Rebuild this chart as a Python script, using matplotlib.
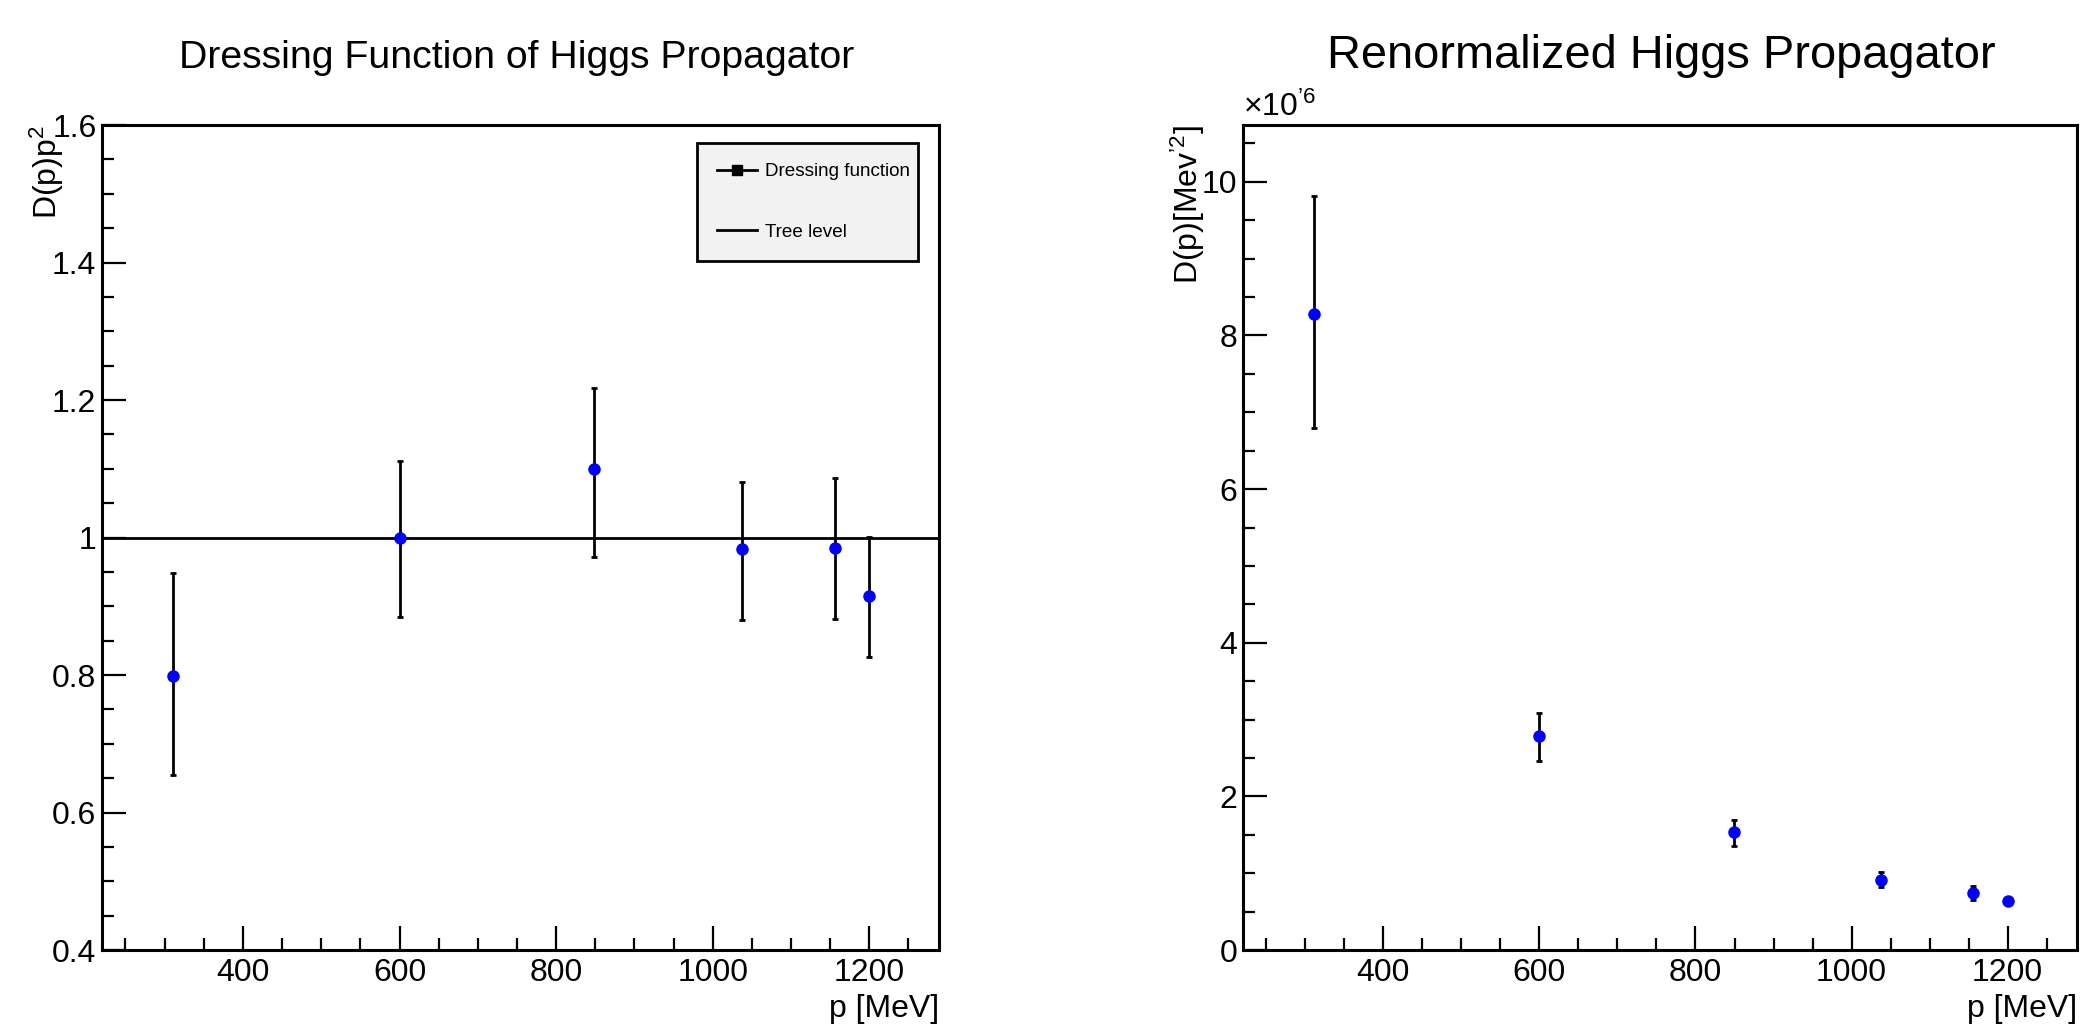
import matplotlib
matplotlib.use("Agg")
import matplotlib.pyplot as plt
from matplotlib.ticker import MultipleLocator, FuncFormatter
from matplotlib.lines import Line2D

plt.rcParams['font.family'] = ['Liberation Sans', 'DejaVu Sans']
plt.rcParams['mathtext.fontset'] = 'custom'
plt.rcParams['mathtext.rm'] = 'Liberation Sans'
plt.rcParams['mathtext.it'] = 'Liberation Sans'

# ---- data ----
momentum = [311, 600, 849, 1038, 1156, 1200]          # p [MeV]
dressing = [0.799, 1.000, 1.099, 0.983, 0.985, 0.915]
dressing_lo = [0.655, 0.885, 0.971, 0.880, 0.881, 0.826]
dressing_hi = [0.948, 1.111, 1.218, 1.081, 1.086, 1.001]

propagator = [8.28, 2.78, 1.53, 0.915, 0.745, 0.640]   # x 10^-6
propagator_lo = [6.80, 2.46, 1.36, 0.815, 0.655, 0.600]
propagator_hi = [9.82, 3.08, 1.69, 1.010, 0.830, 0.680]

left_title = "Dressing Function of Higgs Propagator"
right_title = "Renormalized Higgs Propagator"
legend_labels = ["Dressing function", "Tree level"]

W, H = 2081, 1024
fig = plt.figure(figsize=(W / 100, H / 100), dpi=100)


def box(x0, x1, y0, y1):
    return [x0 / W, 1 - y1 / H, (x1 - x0) / W, (y1 - y0) / H]


axL = fig.add_axes(box(102, 939, 125, 950))
axR = fig.add_axes(box(1243, 2077, 125, 950))

fmt = FuncFormatter(lambda v, pos: "%g" % round(v, 6))

for ax in (axL, axR):
    for s in ax.spines.values():
        s.set_linewidth(2.2)
    ax.tick_params(which='both', direction='in', top=False, right=False,
                   width=1.6, labelsize=23)
    ax.tick_params(which='major', length=17)
    ax.tick_params(which='minor', length=8.5)
    ax.tick_params(axis='x', pad=6)
    ax.tick_params(axis='y', pad=4)
    ax.xaxis.set_major_locator(MultipleLocator(200))
    ax.xaxis.set_minor_locator(MultipleLocator(50))
    ax.xaxis.set_major_formatter(fmt)
    ax.yaxis.set_major_formatter(fmt)
    ax.set_xlim(220, 1289)
    ax.text(1.0, -0.071, "p [MeV]", transform=ax.transAxes, ha='right',
            va='center', fontsize=23)

# ---- left panel ----
yerrL = [[d - l for d, l in zip(dressing, dressing_lo)],
         [h - d for d, h in zip(dressing, dressing_hi)]]
axL.errorbar(momentum, dressing, yerr=yerrL, fmt='o', color='#0000ff',
             ms=8, mec='#0000ff', ecolor='black', elinewidth=2,
             capsize=2, capthick=2, zorder=3)
axL.axhline(1.0, color='black', lw=2, zorder=2)
axL.set_ylim(0.4, 1.6)
axL.yaxis.set_major_locator(MultipleLocator(0.2))
axL.yaxis.set_minor_locator(MultipleLocator(0.05))
axL.text(-0.066, 1.0, "D(p)p$^{2}$", transform=axL.transAxes, rotation=90,
         ha='center', va='top', fontsize=23)

handles = [Line2D([], [], color='black', lw=2, marker='s', ms=7),
           Line2D([], [], color='black', lw=2)]
leg = axL.legend(handles, legend_labels, loc='upper left',
                 bbox_to_anchor=(0.711, 0.828, 0.264, 0.15), mode='expand',
                 borderaxespad=0, fontsize=13.6, handlelength=2.1,
                 handletextpad=0.42, labelspacing=2.3, borderpad=1.05,
                 fancybox=False, framealpha=1)
leg.get_frame().set_facecolor('#f2f2f2')
leg.get_frame().set_edgecolor('black')
leg.get_frame().set_linewidth(2)

fig.text(517 / W, 1 - 58 / H, left_title, ha='center', va='center',
         fontsize=28.3)

# ---- right panel ----
yerrR = [[d - l for d, l in zip(propagator, propagator_lo)],
         [h - d for d, h in zip(propagator, propagator_hi)]]
axR.errorbar(momentum, propagator, yerr=yerrR, fmt='o', color='#0000ff',
             ms=8, mec='#0000ff', ecolor='black', elinewidth=2,
             capsize=2, capthick=2, zorder=3)
axR.set_ylim(0, 10.74)
axR.yaxis.set_major_locator(MultipleLocator(2))
axR.yaxis.set_minor_locator(MultipleLocator(0.5))
axR.text(-0.066, 1.0, "D(p)[Mev$^{\u20192}$]", transform=axR.transAxes,
         rotation=90, ha='center', va='top', fontsize=23)
axR.text(0.0, 1.003, "\u00d710$^{\u20196}$", transform=axR.transAxes,
         ha='left', va='bottom', fontsize=23)

fig.text(1661 / W, 1 - 56 / H, right_title, ha='center', va='center',
         fontsize=33.8)

fig.savefig("out.png", dpi=100)
